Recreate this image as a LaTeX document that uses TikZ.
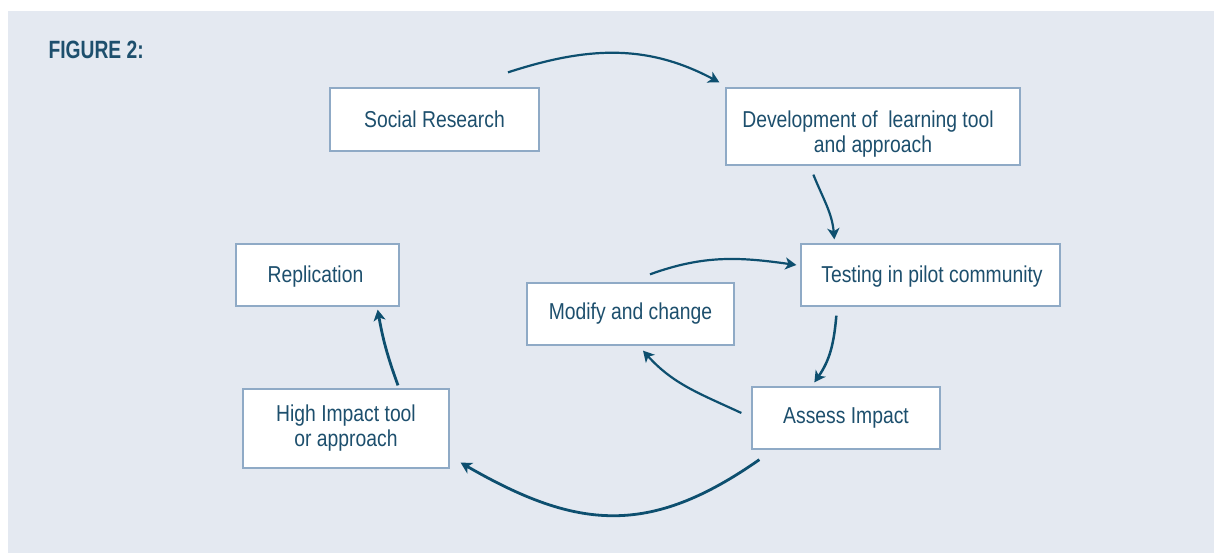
\documentclass[tikz,border=0pt]{standalone}
\usepackage{fontspec}
\setmainfont{Liberation Sans}[FakeStretch=0.84]
\newfontfamily\titlefont{Liberation Sans}[FakeStretch=0.77]
\usetikzlibrary{arrows.meta}
\definecolor{bgcol}{HTML}{E4E9F1}
\definecolor{boxline}{HTML}{8FAAC6}
\definecolor{txtcol}{HTML}{1D4F6D}
\definecolor{arrcol}{HTML}{0D4F6F}
\tikzset{
  stepbox/.style={draw=boxline, line width=1.3pt, fill=white, inner sep=0pt,
    align=center, text=txtcol, font=\fontsize{23}{25}\selectfont},
  arr/.style={draw=arrcol, line width=2.2pt,
    -{Stealth[length=11pt,width=12pt,inset=3pt]}},
  thickarr/.style={arr, line width=2.8pt}
}
\begin{document}
\begin{tikzpicture}[x=1pt,y=1pt]
\useasboundingbox (0,0) rectangle (1214,553);
\fill[bgcol] (8,0) rectangle (1214,542);
\node[anchor=west, text=txtcol, font=\titlefont\bfseries\fontsize{25}{28}\selectfont] (title) at (45,503) {FIGURE 2:};
\node[stepbox, minimum width=209pt, minimum height=63pt] (soc) at (434.5,433.5) {Social Research};
\node[stepbox, minimum width=294pt, minimum height=77pt] (dev) at (873,426.5) {\rule{0pt}{31pt}\hspace*{-10pt}Development of \ learning tool\\and approach};
\node[stepbox, minimum width=259pt, minimum height=62pt] (test) at (930.5,278) {\rule{0pt}{20pt}\hspace*{3pt}Testing in pilot community};
\node[stepbox, minimum width=207pt, minimum height=62pt] (mod) at (630.5,239) {Modify and change};
\node[stepbox, minimum width=188pt, minimum height=62pt] (assess) at (846,135) {Assess Impact};
\node[stepbox, minimum width=163pt, minimum height=62pt] (repl) at (317.5,278) {\rule{0pt}{20pt}\hspace*{-4pt}Replication};
\node[stepbox, minimum width=206pt, minimum height=79pt] (high) at (346,124.5) {High Impact tool\\ or approach};
% connectors
\draw[arr] ([xshift=73.5pt,yshift=15pt]soc.north) to[out=18,in=152] ([xshift=-6pt,yshift=5pt]dev.north west);
\draw[arr] ([xshift=88pt,yshift=-9pt]dev.south west) to[out=-68,in=95] ([xshift=34pt,yshift=4pt]test.north west);
\draw[arr, line width=2.5pt] ([xshift=36pt,yshift=-9pt]test.south west) to[out=-95,in=55] ([xshift=63pt,yshift=4pt]assess.north west);
\draw[arr] ([xshift=-10pt,yshift=5pt]assess.west) to[out=155,in=-48] ([xshift=12.5pt,yshift=-5pt]mod.south);
\draw[arr] ([xshift=19.5pt,yshift=8pt]mod.north) to[out=20,in=172] ([xshift=-4pt,yshift=10pt]test.west);
\draw[thickarr] ([xshift=8pt,yshift=-10pt]assess.south west) to[out=-145,in=-30,looseness=1.15] ([xshift=11pt,yshift=6pt]high.south east);
\draw[thickarr] ([xshift=52pt,yshift=3pt]high.north) to[out=110,in=-80] ([xshift=-22pt,yshift=-3pt]repl.south east);
\end{tikzpicture}
\end{document}
